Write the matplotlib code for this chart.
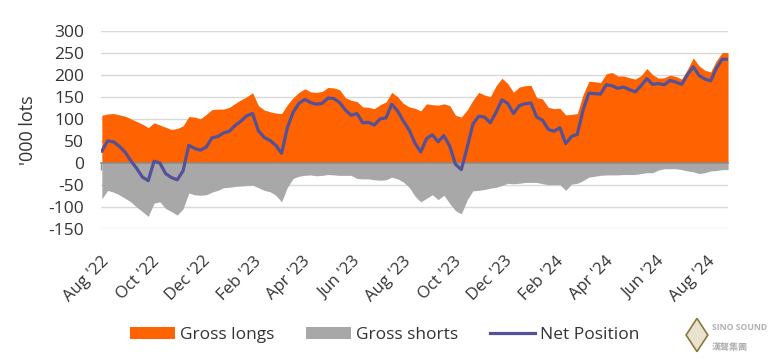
import numpy as np
import pandas as pd
import matplotlib
matplotlib.use('Agg')
import matplotlib.pyplot as plt
import matplotlib.dates as mdates
from matplotlib.patches import Polygon

plt.rcParams['font.family'] = ['Open Sans', 'Noto Sans CJK SC', 'DejaVu Sans']
plt.rcParams['axes.unicode_minus'] = False

# weekly COT readings, '000 lots
dates = pd.date_range('2022-08-02', periods=109, freq='7D')

gross_longs = [108, 111, 112, 109, 106, 100, 94, 88, 80, 91,
               86, 81, 76, 78, 84, 105, 104, 100, 110, 121,
               122, 122, 126, 135, 143, 150, 159, 130, 120, 116,
               113, 112, 132, 148, 160, 168, 161, 160, 162, 171,
               170, 166, 148, 142, 139, 127, 126, 123, 132, 138,
               160, 150, 135, 127, 124, 118, 134, 132, 131, 134,
               130, 108, 104, 120, 142, 160, 154, 150, 175, 192,
               180, 160, 172, 175, 176, 148, 145, 126, 123, 124,
               109, 110, 112, 155, 185, 184, 182, 202, 205, 197,
               197, 193, 190, 198, 214, 200, 192, 193, 199, 196,
               190, 212, 238, 220, 210, 206, 232, 250, 250]

gross_shorts = [-81, -62, -66, -72, -80, -88, -100, -110, -121, -91,
                -88, -103, -110, -118, -104, -68, -72, -73, -72, -66,
                -62, -56, -55, -53, -52, -51, -50, -56, -62, -65,
                -73, -88, -55, -35, -30, -28, -27, -29, -28, -26,
                -27, -28, -28, -28, -35, -36, -36, -38, -39, -38,
                -32, -36, -43, -55, -75, -88, -80, -72, -83, -73,
                -92, -108, -115, -84, -63, -62, -60, -57, -55, -51,
                -46, -47, -46, -44, -44, -44, -47, -49, -49, -49,
                -62, -48, -46, -40, -32, -30, -28, -27, -27, -27,
                -26, -26, -26, -24, -22, -22, -16, -13, -13, -13,
                -15, -18, -20, -24, -22, -18, -17, -15, -15]

net_position = [27, 50, 48, 38, 25, 5, -12, -32, -40, 4,
                0, -24, -33, -38, -18, 40, 33, 29, 36, 57,
                60, 68, 72, 85, 95, 107, 112, 73, 58, 51,
                40, 22, 80, 115, 135, 144, 137, 133, 135, 147,
                146, 137, 120, 108, 112, 91, 92, 86, 100, 102,
                133, 118, 95, 75, 45, 25, 55, 64, 48, 62,
                38, -3, -15, 35, 88, 106, 104, 91, 115, 143,
                135, 112, 130, 134, 136, 104, 97, 76, 72, 80,
                44, 60, 65, 120, 158, 157, 156, 177, 175, 169,
                172, 166, 161, 175, 191, 178, 180, 177, 187, 183,
                178, 200, 218, 198, 190, 186, 215, 235, 235]

tick_dates = pd.date_range('2022-08-01', '2024-08-01', freq='2MS')
y_ticks = [-150, -100, -50, 0, 50, 100, 150, 200, 250, 300]

ORANGE = '#FF6200'
GREY = '#A8A8A8'
NAVY = '#525199'

fig = plt.figure(figsize=(7.77, 3.61), dpi=100)
ax = fig.add_axes([0.130, 0.365, 0.807, 0.5505])

ax.fill_between(dates, 0, gross_longs, color=ORANGE, lw=0, label='Gross longs', zorder=2)
ax.fill_between(dates, 0, gross_shorts, color=GREY, lw=0, label='Gross shorts', zorder=2)
ax.plot(dates, net_position, color=NAVY, lw=2.3, label='Net Position', zorder=4)

ax.set_ylim(-150, 300)
ax.set_xlim(pd.Timestamp('2022-08-01'), dates[-1])
ax.set_yticks(y_ticks)
ax.yaxis.grid(True, color='#d9d9d9', lw=1)
ax.set_axisbelow(True)

for s in ['top', 'right', 'left']:
    ax.spines[s].set_visible(False)
ax.spines['bottom'].set_position(('data', 0))
ax.spines['bottom'].set_color('#8c8c8c')
ax.spines['bottom'].set_linewidth(1.2)
ax.spines['bottom'].set_zorder(3)

ax.set_xticks(tick_dates)
ax.xaxis.set_major_formatter(mdates.DateFormatter("%b '%y"))
ax.tick_params(axis='x', direction='out', length=5, width=1, color='#8c8c8c',
               pad=60, labelsize=12, labelcolor='#333333')
ax.tick_params(axis='y', length=0, pad=12, labelsize=12.5, labelcolor='#333333')
for lab in ax.get_xticklabels():
    lab.set_rotation(45)
    lab.set_ha('right')
    lab.set_rotation_mode('anchor')

ax.set_ylabel("'000 lots", fontsize=13, color='#333333', labelpad=8)

fig.legend(loc='center', bbox_to_anchor=(0.495, 0.072), ncol=3, frameon=False,
           fontsize=12.5, handlelength=2.6, handletextpad=0.3, columnspacing=1.8,
           labelcolor='#333333')

# watermark
fig.patches.append(Polygon([[0.883, 0.072], [0.897, 0.118], [0.911, 0.072], [0.897, 0.026]],
                           closed=True, transform=fig.transFigure,
                           facecolor='#e8e2cf', edgecolor='#8a7a3c', lw=1.2))
fig.text(0.916, 0.085, 'SINO SOUND', fontsize=6.2, fontweight='bold', color='#b0b0b0')
fig.text(0.916, 0.030, '漢聲集團', fontsize=6.5, fontweight='bold', color='#b0b0b0',
         family=['Noto Sans CJK TC', 'DejaVu Sans'])

fig.savefig('out.png', dpi=100)
